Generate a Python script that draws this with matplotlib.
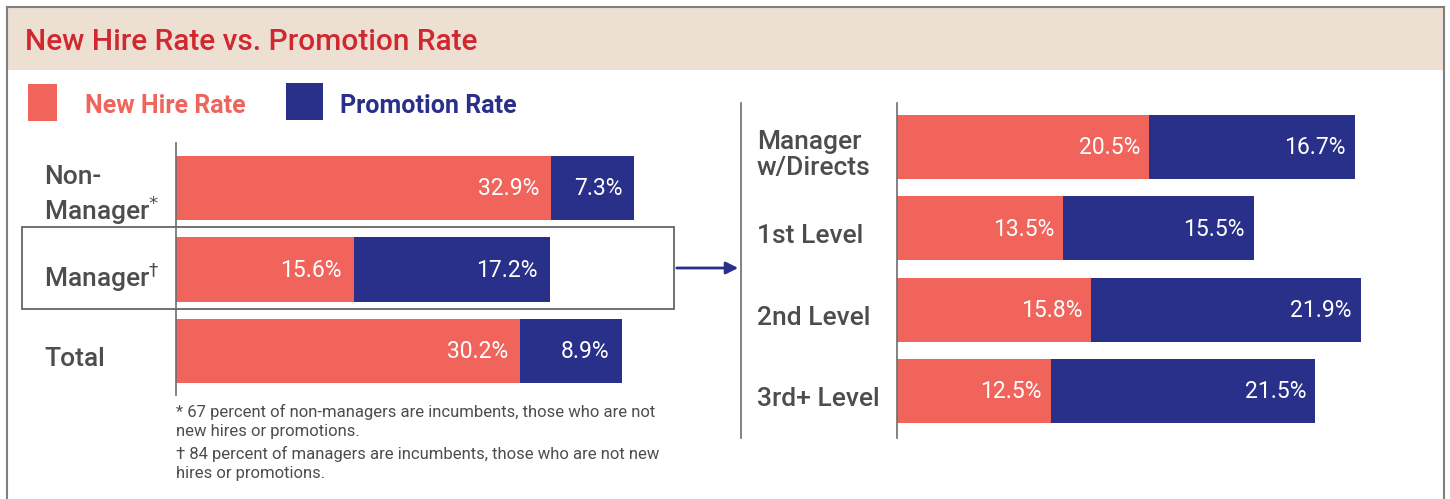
import matplotlib
matplotlib.use('Agg')
import matplotlib.pyplot as plt
from matplotlib.patches import Rectangle, FancyArrowPatch
from matplotlib.lines import Line2D
from matplotlib.transforms import blended_transform_factory

plt.rcParams['font.family'] = ['Roboto', 'DejaVu Sans']
plt.rcParams['mathtext.fontset'] = 'dejavusans'

# data
groups = ['Non-\nManager$^{*}$', 'Manager$^{\\dagger}$', 'Total']
group_hire = [32.9, 15.6, 30.2]
group_promo = [7.3, 17.2, 8.9]

levels = ['Manager\nw/Directs', '1st Level', '2nd Level', '3rd+ Level']
level_hire = [20.5, 13.5, 15.8, 12.5]
level_promo = [16.7, 15.5, 21.9, 21.5]

notes = ['* 67 percent of non-managers are incumbents, those who are not\nnew hires or promotions.',
         '\u2020 84 percent of managers are incumbents, those who are not new\nhires or promotions.']

RED = '#F0645C'
NAVY = '#283089'
GRAY = '#4D4D4F'
W, H = 1450, 499

def fx(x):
    return x / W

def fy(y):
    return 1 - y / H

fig = plt.figure(figsize=(W / 100, H / 100), dpi=100)

# header band and frame
fig.add_artist(Rectangle((fx(7), fy(70)), fx(1444) - fx(7), fy(7) - fy(70),
                         transform=fig.transFigure, facecolor='#EEDFD3', edgecolor='none'))
for xs, ys in [([7, 7], [7, 499]), ([7, 1444], [7, 7]), ([1444, 1444], [7, 499])]:
    fig.add_artist(Line2D([fx(v) for v in xs], [fy(v) for v in ys],
                          transform=fig.transFigure, color='#7f7f7f', lw=1.5))
fig.text(fx(25), fy(42), 'New Hire Rate vs. Promotion Rate', color='#D0282E',
         fontsize=21.5, fontweight='medium', ha='left', va='center')

# legend
fig.add_artist(Rectangle((fx(28), fy(121)), 29 / W, 37 / H, transform=fig.transFigure,
                         facecolor=RED, edgecolor='none'))
fig.text(fx(85), fy(106), 'New Hire Rate', color=RED, fontsize=18, fontweight='bold',
         ha='left', va='center')
fig.add_artist(Rectangle((fx(286), fy(120)), 37 / W, 37 / H, transform=fig.transFigure,
                         facecolor=NAVY, edgecolor='none'))
fig.text(fx(340), fy(106), 'Promotion Rate', color=NAVY, fontsize=18, fontweight='bold',
         ha='left', va='center')


def stacked(ax, names, hire, promo, label_x, pad):
    ys = range(len(names))
    ax.barh(ys, hire, height=0.787, color=RED)
    ax.barh(ys, promo, left=hire, height=0.787, color=NAVY)
    for y, h, p in zip(ys, hire, promo):
        ax.annotate(f'{h}%', (h, y), xytext=(-pad, -1), textcoords='offset pixels',
                    ha='right', va='center', color='white', fontsize=16.5)
        ax.annotate(f'{p}%', (h + p, y), xytext=(-pad, -1), textcoords='offset pixels',
                    ha='right', va='center', color='white', fontsize=16.5)
    tr = blended_transform_factory(fig.transFigure, ax.transData)
    for y, n in zip(ys, names):
        ax.annotate(n, (fx(label_x), y), xycoords=tr, xytext=(0, -8),
                    textcoords='offset pixels', ha='left', va='center',
                    color=GRAY, fontsize=19, fontweight='medium',
                    linespacing=1.15, annotation_clip=False)
    for s in ['top', 'right', 'bottom']:
        ax.spines[s].set_visible(False)
    ax.spines['left'].set_color('#6d6d6d')
    ax.spines['left'].set_linewidth(1.2)
    ax.set_xticks([])
    ax.set_yticks([])
    ax.patch.set_alpha(0)


# left chart: 11.4 px per percent
ax1 = fig.add_axes([fx(176), fy(395), 524 / W, 252 / H])
ax1.set_xlim(0, 524 / 11.4)
ax1.set_ylim(2.54, -0.552)
stacked(ax1, groups, group_hire, group_promo, 44, 12)

# right chart: 12.3 px per percent
ax2 = fig.add_axes([fx(897), fy(438), 540 / W, 335 / H])
ax2.set_xlim(0, 540 / 12.3)
ax2.set_ylim(3.578, -0.541)
stacked(ax2, levels, level_hire, level_promo, 757, 9)

# highlight box, arrow, divider
fig.add_artist(Rectangle((fx(22), fy(309)), (674 - 22) / W, (309 - 227) / H,
                         transform=fig.transFigure, facecolor='none',
                         edgecolor='#666666', lw=1.3))
fig.add_artist(FancyArrowPatch((fx(674), fy(268)), (fx(741), fy(268)),
                               transform=fig.transFigure, arrowstyle='-|>',
                               mutation_scale=18, color=NAVY, lw=2))
fig.add_artist(Line2D([fx(741), fx(741)], [fy(103), fy(438)],
                      transform=fig.transFigure, color='#6d6d6d', lw=1.2))

# footnotes
fig.text(fx(176), fy(404), notes[0], ha='left', va='top', color=GRAY,
         fontsize=12, linespacing=1.35)
fig.text(fx(176), fy(446), notes[1], ha='left', va='top', color=GRAY,
         fontsize=12, linespacing=1.35)

fig.savefig('out.png', dpi=100)
